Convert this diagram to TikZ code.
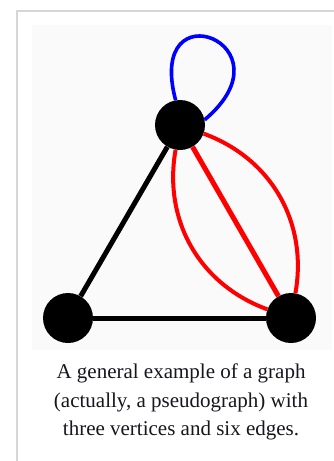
\documentclass[tikz,border=0pt]{standalone}
\usepackage{fontspec}
\setmainfont{Liberation Serif}
\usetikzlibrary{positioning}

\definecolor{framegray}{HTML}{D6D6D6}
\definecolor{panelgray}{HTML}{FAFAFA}
\definecolor{edgered}{HTML}{FF0000}
\definecolor{edgeblue}{HTML}{0000FF}
\definecolor{captionink}{HTML}{16161F}

\begin{document}
\begin{tikzpicture}[x=1pt, y=1pt,
    vertex/.style={circle, fill=black, inner sep=0pt, minimum size=50pt},
    plainedge/.style={draw=black, line width=5pt},
    multiedge/.style={draw=edgered, line width=4pt},
    loopedge/.style={draw=edgeblue, line width=3.6pt},
    caption/.style={align=center, text=captionink, font=\fontsize{21}{28.7}\selectfont}]

    % 1. Seite und Rahmen
    \useasboundingbox (0,0) rectangle (334,-461);
    \fill[white] (0,0) rectangle (334,-461);
    \fill[panelgray] (32,-25) rectangle (332,-350);
    \draw[framegray, line width=2.5pt] (17,-461) -- (17,-11) -- (334,-11);

    % 2. Ecken
    \node[vertex] (top)   at (180,-125) {};
    \node[vertex] (left)  at (68,-318)  {};
    \node[vertex] (right) at (291,-318) {};

    % 3. Kanten
    \draw[plainedge] (top) -- (left);
    \draw[plainedge] (left) -- (right);
    \draw[multiedge, line width=5pt] (top) -- (right);
    \draw[multiedge] (top) to[bend left=40] (right);
    \draw[multiedge] (top) to[bend right=40] (right);
    \draw[loopedge] (top.100) to[out=105, in=40, distance=118pt] (top.12);

    % 4. Bildunterschrift
    \node[caption] (text) at (181,-402)
      {A general example of a graph\\(actually, a pseudograph) with\\three vertices and six edges.};

\end{tikzpicture}
\end{document}
